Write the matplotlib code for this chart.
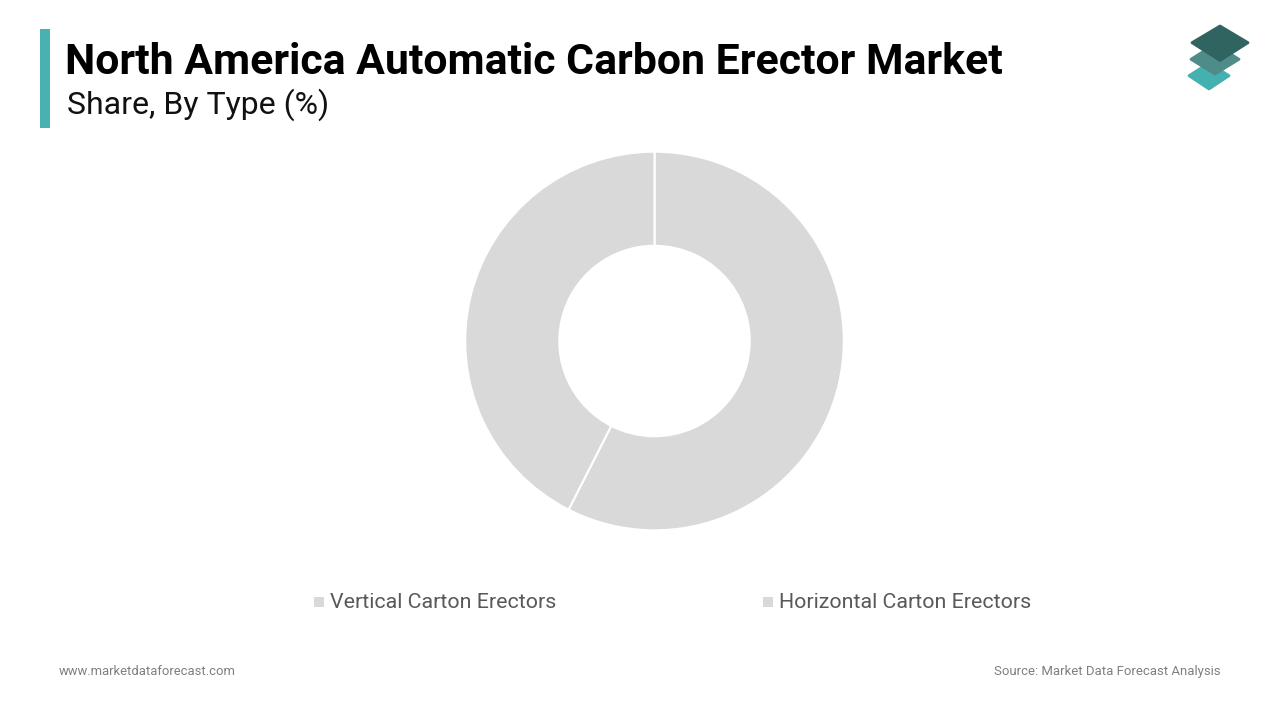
import matplotlib
matplotlib.use("Agg")
import matplotlib.pyplot as plt
from matplotlib.patches import Polygon, Rectangle

plt.rcParams['font.family'] = ['Roboto', 'DejaVu Sans']

title = "North America Automatic Carbon Erector Market"
subtitle = "Share, By Type (%)"
categories = ["Vertical Carton Erectors", "Horizontal Carton Erectors"]
shares = [57.5, 42.5]
slice_colors = ["#d9d9d9", "#d9d9d9"]
footer_left = "www.marketdataforecast.com"
footer_right = "Source: Market Data Forecast Analysis"

W, H = 1280, 720
fig = plt.figure(figsize=(W / 100, H / 100), dpi=100, facecolor="white")

# overlay in pixel coords, y going down like the screenshot
bg = fig.add_axes([0, 0, 1, 1])
bg.set_xlim(0, W)
bg.set_ylim(H, 0)
bg.axis("off")

# donut
cx, cy, r = 654.5, 341, 189.3
ax = fig.add_axes([(cx - r) / W, 1 - (cy + r) / H, 2 * r / W, 2 * r / H])
ax.pie(shares, colors=slice_colors, startangle=90, counterclock=False, radius=1,
       wedgeprops={"width": 0.497, "edgecolor": "white", "linewidth": 1.5})
ax.set_xlim(-1, 1)
ax.set_ylim(-1, 1)

# title block
bg.add_patch(Rectangle((40, 29), 10, 99, color="#4bb0b0", lw=0))
bg.text(65, 62.5, title, fontsize=30.8, fontweight="bold", color="black", va="center", ha="left")
bg.text(67, 105, subtitle, fontsize=23, color="#111111", va="center", ha="left")

# legend
for name, color, x in zip(categories, slice_colors, [314, 763]):
    bg.add_patch(Rectangle((x, 596.5), 9.5, 10, color=color, lw=0))
    bg.text(x + 16, 603, name, fontsize=15.4, color="#595959", va="center", ha="left")

# footer
bg.text(59, 671.5, footer_left, fontsize=9.4, color="#7f7f7f", va="center", ha="left")
bg.text(1221, 671.5, footer_right, fontsize=9.45, color="#7f7f7f", va="center", ha="right")

# logo, bottom layer first
logo = [
    ([(1209, 63), (1229, 75.7), (1209, 89), (1189, 75.7)], "#45b0b0"),
    ([(1215, 44), (1239, 59.3), (1215, 74), (1191, 59.3)], "#4f8b88"),
    ([(1220, 26), (1248, 42.7), (1220, 60.5), (1192, 42.7)], "#2f6460"),
]
for pts, color in logo:
    bg.add_patch(Polygon(pts, closed=True, facecolor=color, edgecolor=color, lw=2, joinstyle="round"))

fig.savefig("out.png", dpi=100)
